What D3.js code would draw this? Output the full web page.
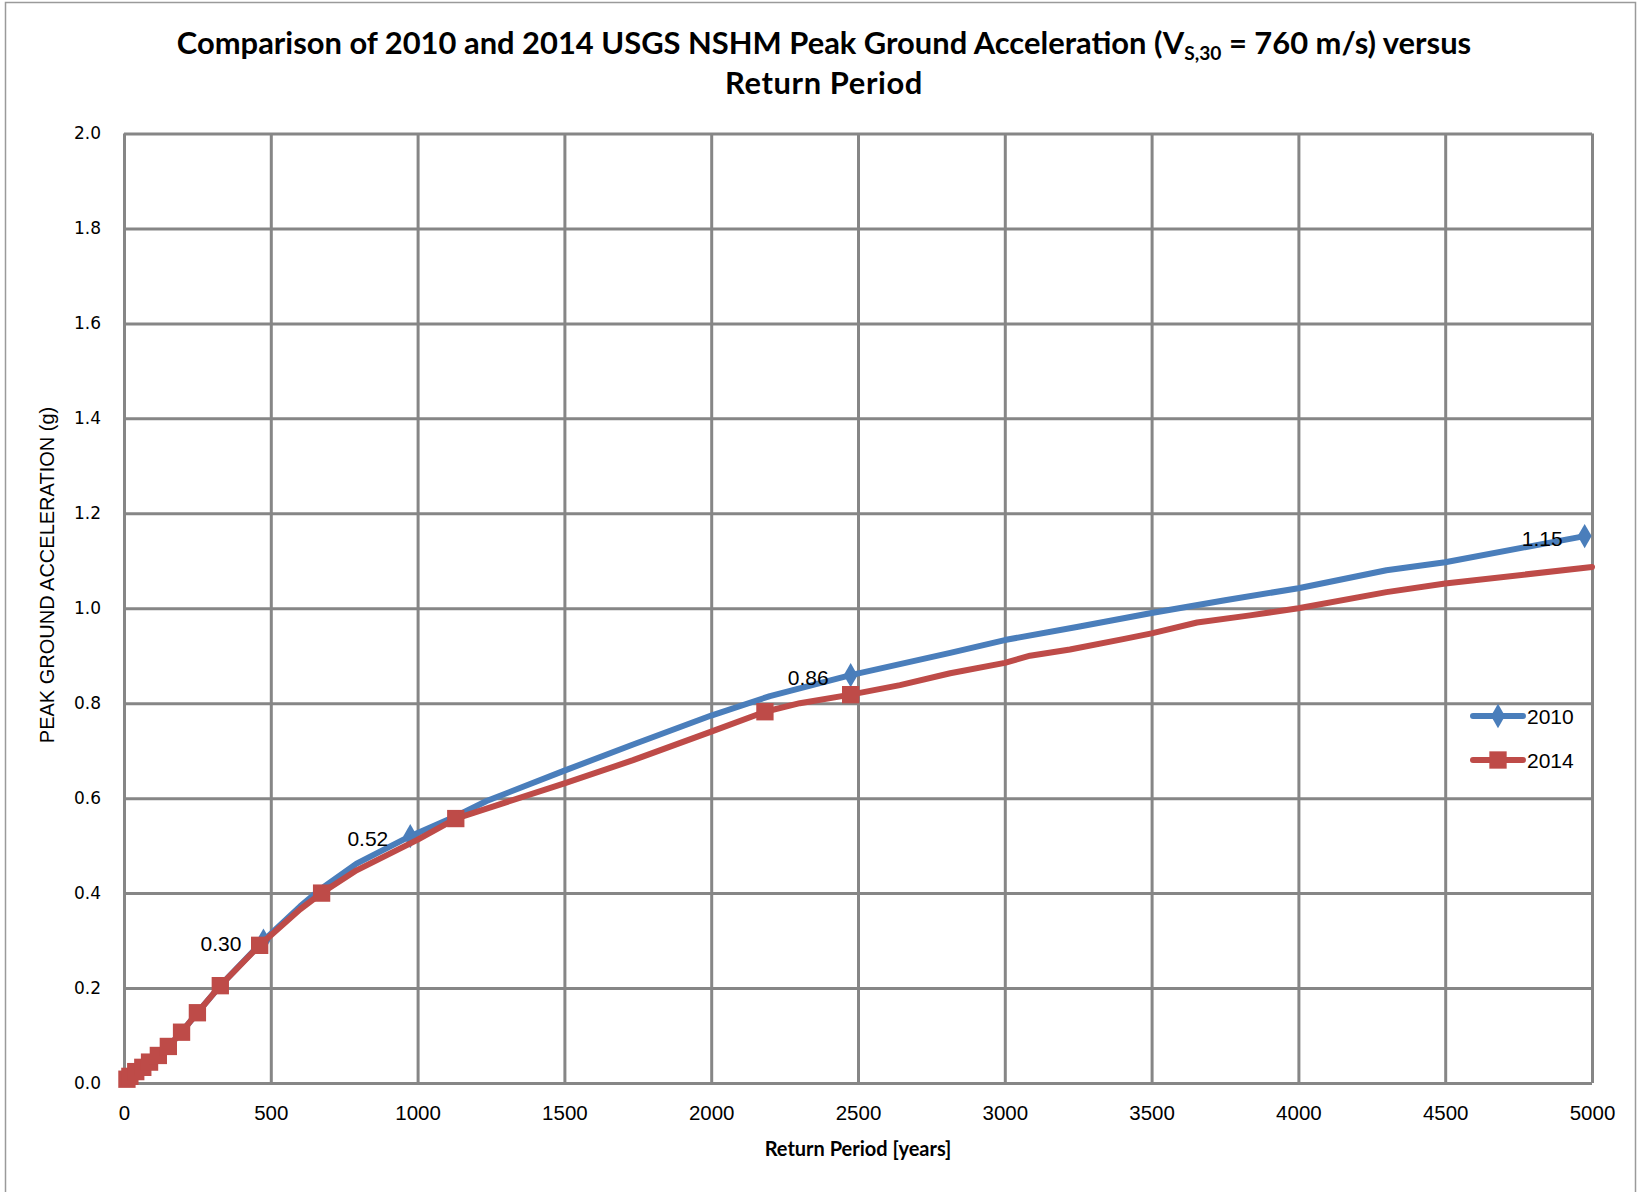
<!DOCTYPE html>
<html>
<head>
<meta charset="utf-8">
<script src="https://cdn.jsdelivr.net/npm/d3@7"></script>
<style>
html,body{margin:0;padding:0;background:#fff;}
svg{display:block;}
</style>
</head>
<body>
<svg id="chart" width="1641" height="1192"></svg>
<script>
// ---- data ----
const titleLine1a = "Comparison of 2010 and 2014 USGS NSHM Peak Ground Acceleration (V";
const titleSub = "S,30";
const titleLine1b = " = 760 m/s) versus";
const titleLine2 = "Return Period";
const xAxisTitle = "Return Period [years]";
const yAxisTitle = "PEAK GROUND ACCELERATION (g)";

const xTicks = [0,500,1000,1500,2000,2500,3000,3500,4000,4500,5000];
const yTicks = [0.0,0.2,0.4,0.6,0.8,1.0,1.2,1.4,1.6,1.8,2.0];

const seriesNames = ["2010","2014"];

const years2010 = [10,20,40,64,87,117,151,196,250,328,475,600,673,792,975,1130,1235,1500,1734,2000,2200,2475,2814,3000,3250,3500,3750,4000,4300,4500,4975];
const pga2010   = [0.008,0.014,0.024,0.033,0.044,0.058,0.077,0.107,0.148,0.205,0.30,0.372,0.410,0.462,0.52,0.562,0.594,0.658,0.713,0.774,0.815,0.859,0.906,0.933,0.961,0.99,1.017,1.042,1.08,1.097,1.152];
const markerYears2010 = [475,975,2475,4975];   // points shown with diamond + data label

const years2014 = [10,20,40,64,87,117,151,196,250,328,462,600,673,792,999,1130,1235,1500,1734,2000,2183,2302,2475,2643,2814,3000,3086,3222,3403,3500,3655,3835,4000,4300,4500,5000];
const pga2014   = [0.008,0.014,0.024,0.033,0.044,0.058,0.077,0.107,0.148,0.205,0.29,0.366,0.40,0.448,0.512,0.557,0.578,0.631,0.68,0.740,0.782,0.80,0.818,0.838,0.863,0.885,0.90,0.913,0.935,0.947,0.97,0.985,1.0,1.034,1.052,1.087];
const markerYears2014 = [10,20,40,64,87,117,151,196,250,328,462,673,1130,2183,2475];

// ---- layout ----
const plot = {left:124, right:1592, top:133.5, bottom:1083};
const blue = "#4a7ebb", red = "#be4b48", grid = "#868686";
const svg = d3.select("#chart");

const x = d3.scaleLinear().domain([0,5000]).range([plot.left, plot.right]);
const y = d3.scaleLinear().domain([0,2]).range([plot.bottom, plot.top]);

// outer chart border
svg.append("rect").attr("x",5.5).attr("y",2.5).attr("width",1630).attr("height",1250)
  .attr("fill","#fff").attr("stroke","#9a9a9a").attr("stroke-width",1.5);

// title
const title = svg.append("text").attr("x",824).attr("y",54).attr("text-anchor","middle")
  .attr("font-family","Lato, 'Liberation Sans', sans-serif").attr("font-weight","bold")
  .attr("font-size",30).attr("fill","#000");
title.append("tspan").text(titleLine1a);
title.append("tspan").attr("font-size","0.62em").attr("dy","0.3em").text(titleSub);
title.append("tspan").attr("dy","-0.19em").text(titleLine1b);
const tw = title.node().getComputedTextLength();
const titleSize = 30 * 1295 / tw;
title.attr("font-size", titleSize);
svg.append("text").attr("x",824).attr("y",94).attr("text-anchor","middle")
  .attr("font-family","Lato, 'Liberation Sans', sans-serif").attr("font-weight","bold")
  .attr("font-size", titleSize).attr("letter-spacing", 0.6).attr("fill","#000").text(titleLine2);

// gridlines via axes
const gx = svg.append("g").attr("transform",`translate(0,${plot.bottom})`)
  .call(d3.axisBottom(x).tickValues(xTicks).tickSize(-(plot.bottom-plot.top)).tickFormat(""));
const gy = svg.append("g").attr("transform",`translate(${plot.left},0)`)
  .call(d3.axisLeft(y).tickValues(yTicks).tickSize(-(plot.right-plot.left)).tickFormat(""));
[gx,gy].forEach(g=>{
  g.select(".domain").remove();
  g.selectAll(".tick line").attr("stroke",grid).attr("stroke-width",3);
});

// tick labels via axes
const lx = svg.append("g").attr("transform",`translate(0,${plot.bottom})`)
  .call(d3.axisBottom(x).tickValues(xTicks).tickSize(0).tickPadding(22).tickFormat(d3.format("d")));
lx.select(".domain").remove();
lx.selectAll("text").attr("font-family","'Liberation Sans', Arial, sans-serif").attr("font-size",20.5).attr("fill","#000");

const ly = svg.append("g").attr("transform",`translate(${plot.left},0)`)
  .call(d3.axisLeft(y).tickValues(yTicks).tickSize(0).tickPadding(23).tickFormat(d3.format(".1f")));
ly.select(".domain").remove();
ly.selectAll("text").attr("font-family","'DejaVu Sans', Verdana, sans-serif").attr("font-size",17).attr("fill","#000");

// axis titles
svg.append("text").attr("x",858).attr("y",1156).attr("text-anchor","middle")
  .attr("font-family","Lato, 'Liberation Sans', sans-serif").attr("font-weight","bold")
  .attr("font-size",20).attr("fill","#000").text(xAxisTitle);
svg.append("text").attr("transform","translate(54,575) rotate(-90)").attr("text-anchor","middle")
  .attr("font-family","'Liberation Sans', Arial, sans-serif").attr("font-size",20)
  .attr("fill","#000").text(yAxisTitle);

// lines
const line = d3.line().x(d=>x(d[0])).y(d=>y(d[1]));
const d2010 = years2010.map((v,i)=>[v,pga2010[i]]);
const d2014 = years2014.map((v,i)=>[v,pga2014[i]]);

const diamond = d3.symbol().type(d3.symbolDiamond).size(170);
const square = d3.symbol().type(d3.symbolSquare).size(300);

svg.append("path").datum(d2010).attr("d",line).attr("fill","none")
  .attr("stroke",blue).attr("stroke-width",6).attr("stroke-linejoin","round").attr("stroke-linecap","round");
const m2010 = d2010.filter(d=>markerYears2010.includes(d[0]));
svg.append("g").selectAll("path").data(m2010).join("path")
  .attr("d",diamond).attr("transform",d=>`translate(${x(d[0])},${y(d[1])})`).attr("fill",blue);

svg.append("path").datum(d2014).attr("d",line).attr("fill","none")
  .attr("stroke",red).attr("stroke-width",6).attr("stroke-linejoin","round").attr("stroke-linecap","round");
const m2014 = d2014.filter(d=>markerYears2014.includes(d[0]));
svg.append("g").selectAll("path").data(m2014).join("path")
  .attr("d",square).attr("transform",d=>`translate(${x(d[0])},${y(d[1])})`).attr("fill",red);

// data labels for 2010
svg.append("g").selectAll("text").data(m2010).join("text")
  .attr("x",d=>x(d[0])-22).attr("y",d=>y(d[1])+10).attr("text-anchor","end")
  .attr("font-family","'Liberation Sans', Arial, sans-serif").attr("font-size",21).attr("fill","#000")
  .text(d=>d[1].toFixed(2));

// legend
const legend = svg.append("g");
const legY = [716, 760];
seriesNames.forEach((name,i)=>{
  const c = i===0 ? blue : red;
  legend.append("line").attr("x1",1473).attr("x2",1523).attr("y1",legY[i]).attr("y2",legY[i])
    .attr("stroke",c).attr("stroke-width",6).attr("stroke-linecap","round");
  legend.append("path").attr("d", i===0 ? diamond : square)
    .attr("transform",`translate(1498,${legY[i]})`).attr("fill",c);
  legend.append("text").attr("x",1527).attr("y",legY[i]+8)
    .attr("font-family","'Liberation Sans', Arial, sans-serif").attr("font-size",21).attr("fill","#000").text(name);
});
</script>
</body>
</html>
